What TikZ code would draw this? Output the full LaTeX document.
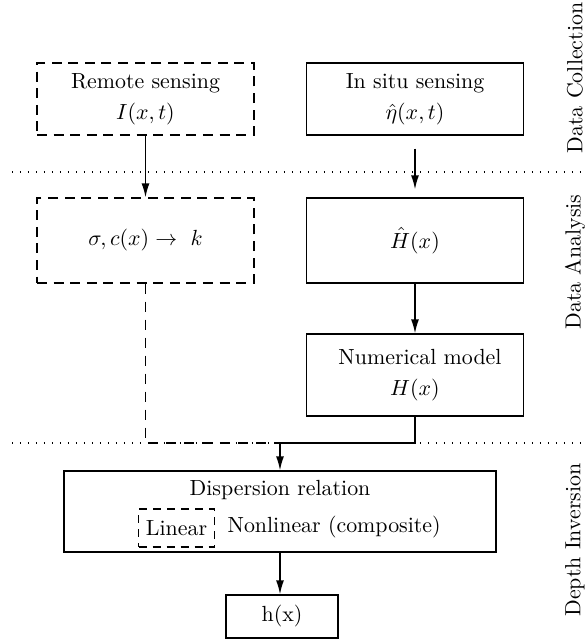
\documentclass[tikz,border=0pt]{standalone}
\usetikzlibrary{arrows.meta}
\begin{document}
\begin{tikzpicture}[x=0.5pt,y=-0.5pt,
  every node/.style={font=\fontsize{10.95}{13.6}\selectfont},
  box/.style={draw,line width=0.7pt,minimum width=108.5pt,minimum height=36pt,align=center,inner sep=0pt},
  dbox/.style={box,dash pattern=on 5pt off 3.3pt},
  arr/.style={-{Latex[length=7pt,width=4pt]}},
  conn/.style={line width=0.7pt},
  dashline/.style={line width=0.7pt,dash pattern=on 5pt off 4pt},
  sep/.style={line width=0.7pt,dash pattern=on 0.7pt off 3.3pt},
  side/.style={rotate=90,inner sep=0pt}]
\useasboundingbox (0,0) rectangle (586,639);
% separators
\draw[sep] (12,172) -- (586,172);
\draw[sep] (12,443) -- (586,443);
% side labels
\node[side] (lc) at (575,78) {Data Collection};
\node[side] (la) at (575,262) {Data Analysis};
\node[side] (ld) at (575,540) {Depth Inversion};
% boxes
\node[dbox] (remote) at (145.5,99) {Remote sensing\\[2pt] $I(x,t)$};
\node[box] (insitu) at (415,99) {In situ sensing\\[2pt] $\hat\eta(x,t)$};
\node[dbox,minimum height=42.5pt] (sigma) at (145.5,240.5) {$\sigma, c(x) \rightarrow\ k$};
\node[box,minimum height=42.5pt] (hhat) at (415,240.5) {$\hat H(x)$};
\node[box,minimum height=41pt] (num) at (415,375) {\hspace*{5pt}Numerical model\\[2pt] $H(x)$};
\node[box,minimum width=216pt,minimum height=40.5pt] (disp) at (280,511.5) {};
\node[inner sep=0pt] (dtitle) at (280,490) {Dispersion relation};
\node[dbox,minimum width=38pt,minimum height=19pt,dash pattern=on 4pt off 3pt] (lin) at (176.5,528) {Linear};
\node[inner sep=0pt,anchor=west] (nonlin) at ([xshift=6pt,yshift=0.3pt]lin.east) {Nonlinear (composite)};
\node[box,minimum width=56pt,minimum height=21.5pt] (hx) at (282,616.5) {h(x)};
% connectors
\coordinate (j) at (280,443);
\draw[conn,arr] (remote.south) -- (sigma.north);
\draw[conn,arr,shorten <=6.5pt,shorten >=4pt] (insitu.south) -- (hhat.north);
\draw[conn,arr] (hhat.south) -- (num.north);
\draw[dashline] (sigma.south) |- (j);
\draw[conn] (num.south) |- (j);
\draw[conn,arr] (j) -- (disp.north);
\draw[conn,arr] (disp.south) -- (disp.south |- hx.north);
\end{tikzpicture}
\end{document}
